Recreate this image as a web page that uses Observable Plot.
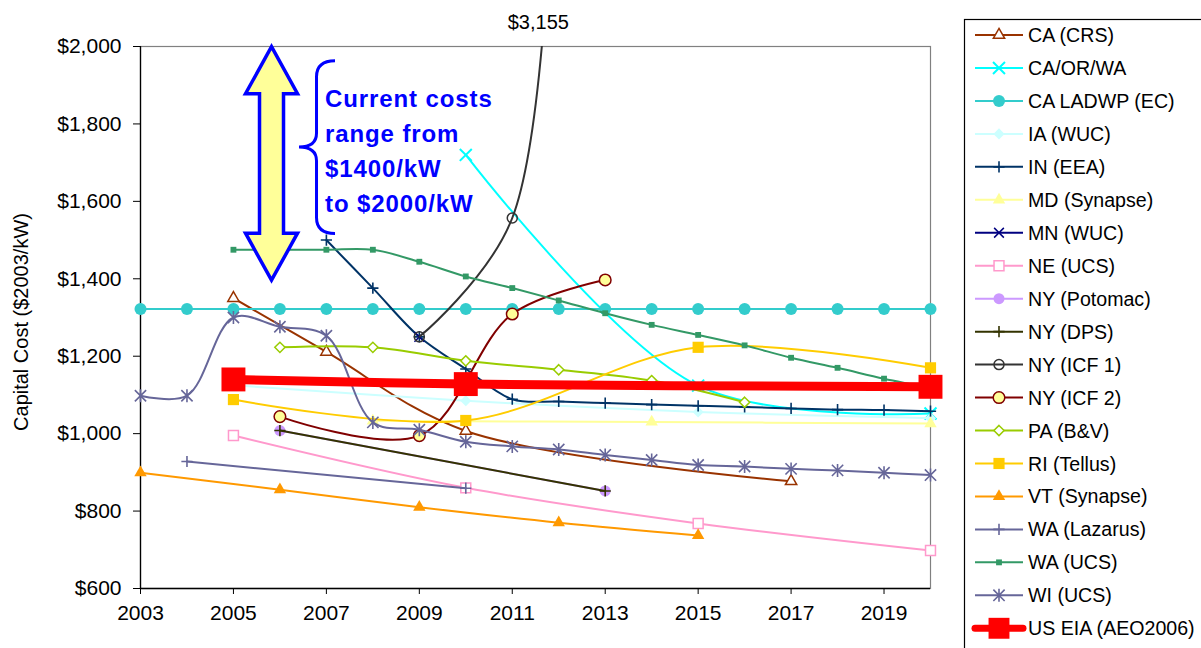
<!DOCTYPE html>
<html><head><meta charset="utf-8">
<script src="https://cdn.jsdelivr.net/npm/d3@7"></script>
<script src="https://cdn.jsdelivr.net/npm/@observablehq/plot@0.6"></script>
<style>
body{margin:0;background:#fff;}
#chart{width:1201px;height:648px;overflow:hidden;position:relative}
</style>
</head><body><div id="chart"></div>
<script>
// ---------------- DATA ----------------
const seriesNames = ["CA (CRS)","CA/OR/WA","CA LADWP (EC)","IA (WUC)","IN (EEA)","MD (Synapse)","MN (WUC)","NE (UCS)","NY (Potomac)","NY (DPS)","NY (ICF 1)","NY (ICF 2)","PA (B&V)","RI (Tellus)","VT (Synapse)","WA (Lazarus)","WA (UCS)","WI (UCS)","US EIA (AEO2006)"];

const caCrsYears = [2005, 2007, 2010, 2017];
const caCrsCost  = [1350, 1211, 1007, 877];
const caOrWaYears = [2010, 2015, 2020];
const caOrWaCost  = [1720, 1124, 1052];
const caLadwpYears = [2003,2004,2005,2006,2007,2008,2009,2010,2011,2012,2013,2014,2015,2016,2017,2018,2019,2020];
const caLadwpCost  = [1322,1322,1322,1322,1322,1322,1322,1322,1322,1322,1322,1322,1322,1322,1322,1322,1322,1322];
const iaWucYears = [2005, 2010, 2015, 2020];
const iaWucCost  = [1125, 1085, 1056, 1040];
const inEeaYears = [2007,2008,2009,2010,2011,2012,2013,2014,2015,2016,2017,2018,2019,2020];
const inEeaCost  = [1500,1376,1250,1167,1089,1083,1079,1075,1072,1069,1065,1062,1061,1058];
const mdSynYears = [2008, 2014, 2020];
const mdSynCost  = [1033, 1030, 1026];
const mnWucYears = [2009];
const mnWucCost  = [1250];
const neUcsYears = [2005, 2010, 2015, 2020];
const neUcsCost  = [995, 860, 768, 698];
const nyPotYears = [2006, 2013];
const nyPotCost  = [1008, 852];
const nyDpsYears = [2006, 2013];
const nyDpsCost  = [1008, 852];
const nyIcf1Years = [2009, 2011, 2012];
const nyIcf1Cost  = [1250, 1557, 3155];
const nyIcf2Years = [2006, 2009, 2011, 2013];
const nyIcf2Cost  = [1044, 995, 1309, 1397];
const paBvYears = [2006, 2008, 2010, 2012, 2014, 2016];
const paBvCost  = [1223, 1223, 1188, 1165, 1137, 1081];
const riTelYears = [2005, 2010, 2015, 2020];
const riTelCost  = [1088, 1034, 1223, 1170];
const vtSynYears = [2003, 2006, 2009, 2012, 2015];
const vtSynCost  = [899, 855, 810, 770, 737];
const waLazYears = [2004, 2010];
const waLazCost  = [928, 859];
const waUcsYears = [2005,2006,2007,2008,2009,2010,2011,2012,2013,2014,2015,2016,2017,2018,2019,2020];
const waUcsCost  = [1475,1475,1475,1475,1444,1406,1376,1344,1311,1281,1255,1228,1196,1170,1142,1118];
const wiUcsYears = [2003,2004,2005,2006,2007,2008,2009,2010,2011,2012,2013,2014,2015,2016,2017,2018,2019,2020];
const wiUcsCost  = [1098,1098,1300,1276,1253,1029,1010,979,967,959,945,932,919,915,909,905,899,893];
const usEiaYears = [2005, 2010, 2020];
const usEiaCost  = [1140, 1128, 1121];

const xTicks = [2003, 2005, 2007, 2009, 2011, 2013, 2015, 2017, 2019];
const yTicks = [600, 800, 1000, 1200, 1400, 1600, 1800, 2000];
const yLabel = "Capital Cost ($2003/kW)";
const noteLines = "Current costs\nrange from\n$1400/kW\nto $2000/kW";
const outlierLabel = "$3,155";
const rangeLow = 1395, rangeHigh = 2000;

// ---------------- STYLES ----------------
const asteriskX = {draw(ctx, size){ const r = Math.sqrt(size)*0.6; ctx.moveTo(-r,-r); ctx.lineTo(r,r); ctx.moveTo(-r,r); ctx.lineTo(r,-r); ctx.moveTo(0,-r*1.15); ctx.lineTo(0,r*1.15);} };
const styles = [
  {color:"#993300", symbol:"triangle", r:4.2, fill:"white", stroke:"#993300", sw:1.5},
  {color:"#00FFFF", symbol:"times", r:5.5, fill:"none", stroke:"#00FFFF", sw:2},
  {color:"#33CCCC", symbol:"circle", r:6, fill:"#33CCCC", stroke:"none", sw:0},
  {color:"#CCFFFF", symbol:"diamond2", r:5, fill:"#CCFFFF", stroke:"none", sw:0},
  {color:"#003366", symbol:"plus", r:3.7, fill:"none", stroke:"#003366", sw:1.6},
  {color:"#FFFF99", symbol:"triangle", r:4.6, fill:"#FFFF99", stroke:"none", sw:0},
  {color:"#000080", symbol:"times", r:4.5, fill:"none", stroke:"#000080", sw:1.5},
  {color:"#FF99CC", symbol:"square", r:5.6, fill:"white", stroke:"#FF99CC", sw:1.5},
  {color:"#CC99FF", symbol:"circle", r:5.5, fill:"#CC99FF", stroke:"none", sw:0},
  {color:"#333300", symbol:"plus", r:3.7, fill:"none", stroke:"#333300", sw:1.6},
  {color:"#333333", symbol:"circle", r:5, fill:"none", stroke:"#333333", sw:1.5},
  {color:"#800000", symbol:"circle", r:5.8, fill:"#FFFF99", stroke:"#800000", sw:1.5},
  {color:"#99CC00", symbol:"diamond2", r:4.6, fill:"white", stroke:"#99CC00", sw:1.5},
  {color:"#FFCC00", symbol:"square", r:6.3, fill:"#FFCC00", stroke:"none", sw:0},
  {color:"#FF9900", symbol:"triangle", r:4.6, fill:"#FF9900", stroke:"none", sw:0},
  {color:"#666699", symbol:"plus", r:3.7, fill:"none", stroke:"#666699", sw:1.6},
  {color:"#339966", symbol:"square", r:3.3, fill:"#339966", stroke:"none", sw:0},
  {color:"#666699", symbol:asteriskX, r:5.3, fill:"none", stroke:"#666699", sw:1.6},
  {color:"#FF0000", symbol:"square", r:13.5, fill:"#FF0000", stroke:"none", sw:0, lw:9, legendR:11.8, legendLw:7}
];

const seriesYears = [caCrsYears, caOrWaYears, caLadwpYears, iaWucYears, inEeaYears, mdSynYears, mnWucYears, neUcsYears, nyPotYears, nyDpsYears, nyIcf1Years, nyIcf2Years, paBvYears, riTelYears, vtSynYears, waLazYears, waUcsYears, wiUcsYears, usEiaYears];
const seriesCosts = [caCrsCost, caOrWaCost, caLadwpCost, iaWucCost, inEeaCost, mdSynCost, mnWucCost, neUcsCost, nyPotCost, nyDpsCost, nyIcf1Cost, nyIcf2Cost, paBvCost, riTelCost, vtSynCost, waLazCost, waUcsCost, wiUcsCost, usEiaCost];

const series = seriesNames.map((name, i) => ({
  name, style: styles[i],
  rows: seriesYears[i].map((y, j) => ({year: y, cost: seriesCosts[i][j]}))
}));

// ---------------- CHART ----------------
const W = 1201, H = 648, mL = 140, mR = 271, mT = 46, mB = 60;
const yMin = 600, yMax = 2000;
const FONT = "'Liberation Sans', Arial, sans-serif";

const marks = [
  Plot.frame({stroke: "#808080", strokeWidth: 1.2}),
  Plot.axisX({ticks: xTicks, tickFormat: d => String(d), tickSize: 6, tickPadding: 11, label: null, fontSize: 21}),
  Plot.axisY({ticks: yTicks, tickFormat: d3.format("$,"), tickSize: 7, tickPadding: 12, label: null, fontSize: 21}),
  Plot.ruleX([2003], {stroke: "#000", strokeWidth: 1.3}),
  Plot.ruleY([600], {stroke: "#000", strokeWidth: 1.3})
];
for (const s of series) {
  const st = s.style;
  const offScale = s.rows.some(d => d.cost > yMax);
  marks.push(Plot.line(s.rows, {x: "year", y: "cost", stroke: st.color, strokeWidth: st.lw || 2, curve: "catmull-rom", clip: offScale}));
  marks.push(Plot.dot(s.rows, {filter: d => d.cost <= yMax, x: "year", y: "cost", symbol: st.symbol, r: st.r, fill: st.fill, stroke: st.stroke, strokeWidth: st.sw}));
}
marks.push(Plot.text([noteLines], {x: 2006.97, y: 1737, text: d => d, textAnchor: "start", lineAnchor: "middle", lineHeight: 1.46, fill: "#0000FF", fontWeight: "bold", fontSize: 24, className: "note"}));
marks.push(Plot.text([outlierLabel], {x: 2011.56, y: 2061, text: d => d, textAnchor: "middle", fill: "#000", fontSize: 20}));

const chart = Plot.plot({
  width: W, height: H,
  marginLeft: mL, marginRight: mR, marginTop: mT, marginBottom: mB,
  x: {domain: [2003, 2020]},
  y: {domain: [yMin, yMax]},
  style: {fontFamily: FONT, fontSize: "20px", color: "#000", background: "white", overflow: "visible"},
  marks
});
document.getElementById("chart").appendChild(chart);

// scales for annotations
let X, Y;
try { X = chart.scale("x").apply; Y = chart.scale("y").apply; } catch(e) {}
if (typeof X !== "function") X = d3.scaleLinear([2003, 2020], [mL, W - mR]);
if (typeof Y !== "function") Y = d3.scaleLinear([yMin, yMax], [H - mB, mT]);

const svg = d3.select(chart);

// double-headed range arrow
const cx = X(2005.83), aTop = Y(rangeHigh) + 0.7, aBot = Y(rangeLow);
const hl = 47, hh = 26, sh = 12;
const pts = [[cx, aTop],[cx+hh, aTop+hl],[cx+sh, aTop+hl],[cx+sh, aBot-hl],[cx+hh, aBot-hl],[cx, aBot],[cx-hh, aBot-hl],[cx-sh, aBot-hl],[cx-sh, aTop+hl],[cx-hh, aTop+hl]];
svg.append("path").attr("d", "M" + pts.map(p => p.join(",")).join("L") + "Z")
  .attr("fill", "#FFFF99").attr("stroke", "#0000FF").attr("stroke-width", 3.5).attr("stroke-linejoin", "miter");

// brace
const bx = cx + 27.5, bTop = Y(1962), bBot = Y(1516), bMid = (bTop + bBot) / 2;
const bv = bx + 17.5, be = bx + 36;
svg.append("path")
  .attr("d", `M${be},${bTop} Q${bv},${bTop} ${bv},${bTop+16} L${bv},${bMid-14} Q${bv},${bMid} ${bx},${bMid} Q${bv},${bMid} ${bv},${bMid+14} L${bv},${bBot-16} Q${bv},${bBot} ${be},${bBot}`)
  .attr("fill", "none").attr("stroke", "#0000FF").attr("stroke-width", 3);

svg.selectAll(".note").raise();
svg.selectAll(".note text").attr("letter-spacing", "0.9px");

// y label
svg.append("text").attr("transform", `translate(28,${322}) rotate(-90)`)
  .attr("text-anchor", "middle").attr("font-family", FONT).attr("font-size", 20).attr("fill", "#000")
  .text(yLabel);

// legend
const symMap = {circle: d3.symbolCircle, square: d3.symbolSquare, triangle: d3.symbolTriangle, diamond2: d3.symbolDiamond2, plus: d3.symbolPlus, times: d3.symbolTimes};
const lg = svg.append("g");
lg.append("rect").attr("x", 964.5).attr("y", 19.5).attr("width", 320).attr("height", 700)
  .attr("fill", "white").attr("stroke", "#000").attr("stroke-width", 1.2);
series.forEach((s, i) => {
  const st = s.style, y = 35 + i * 32.96;
  lg.append("line").attr("x1", 975).attr("x2", 1023).attr("y1", y).attr("y2", y)
    .attr("stroke", st.color).attr("stroke-width", st.legendLw || 2).attr("stroke-linecap", st.legendLw ? "round" : "butt");
  const type = typeof st.symbol === "string" ? symMap[st.symbol] : st.symbol;
  const r = st.legendR || st.r;
  lg.append("path").attr("transform", `translate(999,${y})`)
    .attr("d", d3.symbol(type, Math.PI * r * r)())
    .attr("fill", st.fill).attr("stroke", st.stroke).attr("stroke-width", st.sw);
  lg.append("text").attr("x", 1028).attr("y", y).attr("dy", "0.36em").attr("text-anchor", "start")
    .attr("font-family", FONT).attr("font-size", 19.6).attr("fill", "#000").text(s.name);
});
</script></body></html>
